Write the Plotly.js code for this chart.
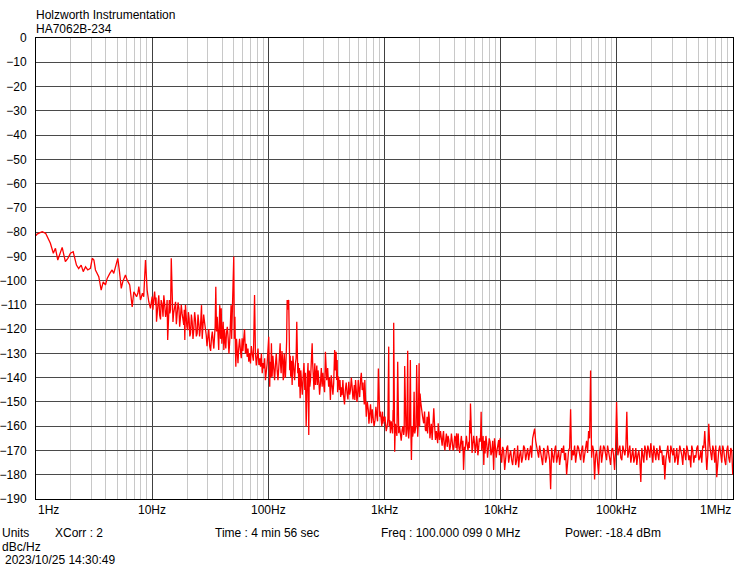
<!DOCTYPE html>
<html>
<head>
<meta charset="utf-8">
<script src="https://cdn.plot.ly/plotly-3.0.1.min.js"></script>
<style>html,body{margin:0;padding:0;background:#fff;}#chart{width:738px;height:566px;}</style>
</head>
<body>
<div id="chart"></div>
<script>
// ---- Data (offset frequency in Hz, phase noise in dBc/Hz) ----
const freqDec1 = [1.00,1.02,1.13,1.21,1.33,1.41,1.47,1.54,1.68,1.79,1.88,1.98,2.09,2.23,2.33,2.45,2.55,2.67,2.79,2.94,3.05,3.15,3.25,3.47,3.64,3.79,3.96,4.10,4.32,4.52,4.67,4.83,5.06,5.23,5.42,5.58,5.89,6.09,6.41,6.73,6.95,7.34,7.53,7.68,7.93,8.25,8.46,8.76,9.05,9.35,9.67];
const noiseDec1 = [-81.5,-80.8,-79.8,-80.5,-84.6,-88.7,-86.7,-91.5,-86.3,-92.2,-90.8,-88.7,-88.1,-93.6,-95.0,-93.6,-96.3,-94.3,-95.6,-94.9,-90.8,-91.5,-95.6,-98.4,-103.9,-100.5,-101.8,-99.1,-97.0,-95.6,-97.0,-94.3,-90.8,-96.3,-103.2,-100.5,-97.7,-99.8,-101.8,-110.8,-104.6,-106.6,-105.2,-102.5,-108.0,-105.2,-106.6,-91.5,-103.9,-108.7,-111.4];

const freqDec2 = [10.0,10.3,10.7,10.9,11.2,11.6,11.95,12.4,12.8,13.3,13.6,13.9,14.2,14.6,14.95,15.3,15.9,16.4,17.0,17.5,18.1,18.7,19.1,19.6,20.2,20.8,21.4,22.1,22.8,23.6,24.4,25.2,26.0,26.6,27.3,28.2,29.2,30.1,31.3,32.4,33.5,34.4,35.3,36.3,37.4,38.2,39.3,40.3,41.4,42.5,43.6,45.1,46.5,47.8,48.8,49.8,50.4,51.6,52.5,54.0,55.6,57.5,59.5,61.3,63.5,65.7,67.9,70.2,72.6,76.1,77.5,80.1,82.9,85.7,88.6,91.5,94.4,97.7];
const noiseDec2 = [-106.6,-108.0,-110.1,-116.9,-109.4,-114.2,-108.0,-114.9,-109.4,-112.1,-124.5,-111.4,-113.5,-90.8,-108.0,-113.5,-108.7,-114.9,-111.4,-115.5,-113.5,-118.3,-124.5,-114.9,-120.4,-115.5,-121.7,-116.9,-120.4,-116.2,-121.7,-117.6,-119.7,-110.1,-120.4,-116.9,-122.4,-123.8,-127.2,-123.8,-125.2,-123.1,-102.5,-114.9,-128.6,-110.1,-111.4,-121.7,-128.6,-124.5,-121.7,-123.8,-125.2,-110.1,-116.9,-94.3,-90.1,-114.9,-135.5,-130.0,-127.9,-128.6,-123.8,-124.5,-130.0,-131.4,-133.4,-134.1,-130.0,-105.9,-130.0,-131.4,-134.8,-135.5,-138.2,-136.2,-141.0,-134.1];
const freqDec2b = [10.15,10.5,10.8,11.05,11.4,11.8,12.2,12.6,13.05,13.45,13.75,14.05,14.4,14.8,15.1,15.6,16.15,16.7,17.25,17.8,18.4,18.9,19.35,19.9,20.5,21.1,21.75,22.45,23.2,24.0,24.8,25.6,26.3,26.95,27.75,28.7,29.65,30.7,31.85,32.95,33.95,34.85,35.8,36.85,37.8,38.75,39.8,40.85,41.95,43.05,44.35,45.8,47.15,48.3,49.3,50.1,51.0,52.05,53.25,54.8,56.55,58.5,60.4,62.4,64.6,66.8,69.05,71.4,74.35,76.8,78.8,81.5,84.3,87.15,90.05,92.95,96.05];
const noiseDec2b = [-112,-104.5,-107,-113,-106,-116,-110,-106,-115,-108,-117,-108,-112,-104,-117,-111,-118,-109,-119,-110,-116,-112,-110,-119,-113,-123,-114,-124,-113,-123,-114,-123,-116,-124,-114,-119,-127,-120,-129,-121,-128,-119,-121,-125,-118,-124,-126,-117,-120,-128,-119,-130,-120,-124,-104,-92,-124,-128,-124,-134,-124,-132,-129,-120,-126,-128,-130,-127,-133,-122,-135,-128,-132,-130,-134,-132,-137];

const freqDec3 = [100.8,102.8,104,106.3,107.8,111.3,115.1,119.1,122.9,126.4,128.9,133.0,135.7,138.4,142.3,145.2,148.1,149.8,152.8,155.8,160.3,165.4,171.2,175.7,179.2,182.7,187.9,192.8,199.4,206.0,211.6,216.6,222.9,227.6,233.7,238.4,243.3,251.2,258.4,264.4,271.7,281.0,290.6,299.9,310.1,318.1,330.5,342.1,353.9,365.3,372.3,383.3,391.3,398.2,408.4,419.5,431.2,445.4,460.2,476.4,492.5,509.5,526.7,544.3,555.3,571.2,586.6,601.4,621.3,642.3,663.6,676.6,697.2,725.4,743.0,773.3,797.0,828.8,857.0,885.7,909.6,935.1,961.1,978];
const noiseDec3 = [-123.1,-143.7,-133.4,-125.8,-139.6,-136.9,-134.8,-136.9,-136.2,-125.8,-138.2,-132.7,-139.6,-133.4,-131.4,-108.0,-108.7,-108.0,-136.9,-139.6,-143.0,-136.9,-134.1,-116.9,-138.2,-143.7,-148.5,-141.0,-139.6,-145.1,-160.2,-139.6,-163.6,-143.7,-135.5,-125.8,-139.6,-134.1,-138.2,-143.0,-141.0,-142.3,-143.7,-143.0,-129.3,-141.0,-143.7,-149.2,-145.1,-142.3,-128.6,-129.3,-132.7,-139.6,-145.1,-147.9,-147.2,-147.9,-145.1,-146.5,-141.7,-145.1,-143.7,-145.8,-149.2,-145.1,-147.9,-144.4,-141.0,-145.1,-148.5,-141.0,-156.1,-153.3,-156.1,-158.8,-156.1,-157.5,-155.4,-136.2,-156.1,-158.2,-154.0,-156.1];
const freqDec3b = [101.8,103.4,105.1,107,109.5,113.2,117.1,121,124.6,127.6,131,134.3,137,140.3,143.7,146.6,149,151.3,154.3,158,162.8,168.3,173.4,177.4,181,185.3,190.3,196.1,202.7,208.8,214.1,219.7,225.2,230.6,236,240.8,247.2,254.8,261.4,268,276.3,285.8,295.2,305,314,324.2,336.3,348,359.6,368.8,377.8,387.3,394.7,403.3,414,425.3,438.3,452.8,468.3,484.4,501,518.1,535.5,549.8,563.2,578.9,594,611.3,631.8,653,670.1,686.9,711.3,734.2,758.1,785.1,812.9,842.9,871.3,897.6,922.3,948.1,969.5];
const noiseDec3b = [-135,-136,-140,-132,-131,-141,-130,-141,-131,-135,-129,-141,-130,-140,-125,-112,-115,-127,-131,-133,-131,-141,-132,-130,-134,-136,-137,-147,-134,-138,-141,-134,-137,-141,-133,-134,-145,-143,-135,-137,-147,-136,-138,-146,-137,-136,-140,-139,-147,-138,-137,-141,-146,-140,-141,-144,-141,-151,-142,-149,-147,-140,-149,-143,-141,-150,-141,-148,-138,-142,-151,-149,-150,-159,-151,-153,-160,-152,-158,-150,-154,-160,-159];

const freqDec4 = [1004,1018,1053,1087,1108,1124,1163,1186,1200,1224,1259,1299,1325,1370,1417,1463,1492,1534,1584,1615,1670,1705,1748,1798,1844,1892,1931,1985,2024,2077,2175,2249,2326,2372,2435,2485,2572,2656,2748,2842,2899,2975,3095,3177,3267,3353,3468,3580,3704,3832,3955,4091,4171,4254,4365,4515,4670,4792,4887,4985,5155,5317,5421,5495,5603,5743,5964,6128,6282,6444,6660,6790,6961,7158,7340,7591,7832,8108,8386,8703,9001,9312,9611,9881];
const noiseDec4 = [-158.2,-158.8,-160.2,-127.2,-157.5,-162.9,-160.9,-153.3,-117.4,-170.5,-161.6,-133.4,-162.9,-165.0,-161.6,-163.6,-135.2,-164.3,-128.9,-165.0,-132.7,-173.9,-164.3,-145.8,-161.6,-134.8,-164.3,-134.1,-146.5,-153.3,-158.8,-161.6,-156.1,-159.5,-157.5,-162.9,-165.7,-152.6,-165.7,-164.3,-158.8,-165.7,-167.1,-164.3,-167.8,-166.4,-168.5,-165.7,-167.8,-166.4,-168.5,-165.0,-162.9,-166.4,-168.5,-167.1,-169.8,-178.0,-168.5,-166.4,-167.8,-166.4,-157.5,-150.6,-165.7,-168.5,-167.1,-168.5,-166.4,-169.8,-166.4,-154.0,-167.1,-176.0,-171.2,-167.1,-169.1,-166.4,-170.5,-178.0,-168.5,-169.8,-165.7,-165.0];
const freqDec4b = [1011,1035,1070,1097,1116,1143,1174,1193,1212,1241,1279,1312,1347,1393,1440,1477,1513,1559,1600,1642,1687,1726,1773,1821,1868,1911,1958,2004,2050,2126,2212,2287,2349,2403,2460,2528,2614,2702,2795,2870,2937,3035,3136,3222,3310,3410,3524,3642,3768,3893,4023,4131,4212,4309,4440,4592,4731,4839,4936,5070,5236,5369,5458,5549,5673,5853,6046,6205,6363,6552,6725,6875,7059,7249,7465,7711,7970,8247,8544,8852,9156,9461,9746];
const noiseDec4b = [-156,-162,-157,-160,-159,-158,-163,-158,-160,-159,-164,-158,-160,-166,-160,-162,-160,-161,-163,-160,-162,-160,-162,-163,-160,-162,-158,-160,-150,-156,-154,-162,-163,-154,-165,-159,-161,-160,-162,-167,-161,-162,-168,-162,-170,-163,-164,-170,-163,-170,-164,-169,-170,-163,-171,-164,-166,-171,-170,-164,-170,-169,-163,-160,-171,-164,-171,-164,-172,-165,-163,-170,-164,-166,-164,-173,-165,-172,-166,-165,-173,-167,-172];

const freqDec5 = [10000,10404,10824,11262,11717,12190,12683,13195,13729,14283,14860,15461,16086,16735,17412,18115,18847,19609,20401,21225,22083,22975,23903,24869,25874,26920,28007,29139,30316,31541,32816,34142,35521,36956,38450,40003,41620,43301,45051,46871,48765,50736,52786,54919,57138,59447,61849,64348,66948,69653,72468,75396,78443,81613,84910,88341,91911,95625,99489];
const noiseDec5 = [-171,-168.5,-178,-169,-175,-170,-176,-169,-174,-177,-170,-173,-169,-172,-174,-168,-165,-161,-169,-173,-171,-176,-170,-173,-171,-186,-172,-170,-175,-170,-173,-171,-174,-180,-170,-153,-170,-168,-172,-169,-174,-168,-171,-166,-162,-137,-168,-182,-170,-180,-168,-172,-169,-174,-170,-176,-169,-178,-150];
const freqDec5b = [10200,10612,11041,11487,11951,12434,12936,13459,14003,14568,15157,15769,16407,17070,17759,18476,19228,20004,20812,21653,22528,23438,24385,25370,26395,27461,28570,29725,30926,32175,33475,34827,36233,37697,39220,40805,42453,44168,45953,47808,49740,51750,53840,56015,58278,60633,63083,65631,68283,71041,73912,76898,80005,83238,86600,90100,93740,97527];
const noiseDec5b = [-175,-170,-173,-168,-172,-174,-171,-176,-168,-172,-175,-168,-174,-169,-171,-173,-163,-166,-172,-168,-174,-169,-175,-168,-174,-169,-175,-168,-172,-176,-169,-168,-171,-173,-169,-174,-172,-175,-168,-171,-170,-175,-168,-171,-165,-173,-170,-172,-175,-171,-175,-168,-171,-168,-173,-170,-172,-170];

const freqDec6 = [104040,108240,112620,117170,121900,126830,131950,137290,142830,148600,154610,160860,167350,174120,181150,188470,196090,204010,212250,220830,229750,239030,248690,258740,269200,280070,291390,303160,315410,328160,341420,355210,369560,384500,400030,416200,433010,450510,468710,487650,507360,527860,549190,571380,594470,618490,643480,669480,696530,724680,753960,784430,816130,849100,883410,919110,956250,994890,1000000];
const noiseDec6 = [-170,-173,-168,-172,-154,-171,-175,-169,-173,-176,-170,-183,-172,-168,-174,-170,-167,-175,-171,-169,-174,-171,-176,-182,-170,-173,-168,-172,-175,-169,-173,-170,-176,-171,-168,-174,-177,-170,-172,-169,-174,-170,-168,-162,-178,-159,-171,-168,-175,-181,-170,-172,-168,-174,-170,-173,-169,-180,-176];
const freqDec6b = [102000,106120,110410,114870,119510,124340,129360,134590,140030,145680,151570,157690,164070,170700,177590,184760,192280,200040,208120,216530,225280,234380,243850,253700,263950,274610,285700,297250,309260,321750,334750,348270,362330,376970,392200,408050,424530,441680,459530,478080,497400,517500,538400,560150,582780,606330,630830,656310,682830,710410,739120,768980,800050,832380,866000,901000,937400,975270];
const noiseDec6b = [-172,-168,-174,-170,-169,-173,-168,-172,-175,-169,-172,-174,-169,-175,-170,-168,-173,-170,-168,-174,-172,-168,-170,-172,-174,-168,-175,-170,-169,-173,-176,-168,-172,-169,-174,-170,-172,-168,-175,-173,-168,-173,-175,-169,-171,-172,-168,-174,-170,-168,-173,-168,-175,-170,-176,-168,-175,-170];

// Axis labels
const decadeTicks = [1,10,100,1000,10000,100000,1000000];
const decadeLabels = ['1Hz','10Hz','100Hz','1kHz','10kHz','100kHz','1MHz'];
const yTicks = [0,-10,-20,-30,-40,-50,-60,-70,-80,-90,-100,-110,-120,-130,-140,-150,-160,-170,-180,-190];

// Header / footer texts
const headerLines = ['Holzworth Instrumentation','HA7062B-234'];
const footerTexts = ['Units','XCorr : 2','Time : 4 min 56 sec','Freq : 100.000 099 0 MHz','Power: -18.4 dBm','dBc/Hz','2023/10/25 14:30:49'];

const groups = [[freqDec1,noiseDec1],[freqDec2,noiseDec2],[freqDec2b,noiseDec2b],[freqDec3,noiseDec3],[freqDec3b,noiseDec3b],
  [freqDec4,noiseDec4],[freqDec4b,noiseDec4b],[freqDec5,noiseDec5],[freqDec5b,noiseDec5b],[freqDec6,noiseDec6],[freqDec6b,noiseDec6b]];
const pts = [];
groups.forEach(([f,n],gi) => {
  if (f.length !== n.length) throw new Error('length mismatch in group '+gi+': '+f.length+' vs '+n.length);
  f.forEach((v,i)=>pts.push([v,n[i]]));
});
pts.sort((a,b)=>a[0]-b[0]);
const freqs = pts.map(p=>p[0]);
const noise = pts.map(p=>p[1]);

const minorVals = [];
for (let d = 1; d < 1e6; d *= 10) for (let m = 2; m <= 9; m++) minorVals.push(m*d);

const W = 738, H = 566, ML = 36, MR = 5, MT = 38, MB = 67;
const PW = W-ML-MR, PH = H-MT-MB;
const px = x => (x-ML)/PW;
const py = y => (H-MB-y)/PH;
const FONT = 'Liberation Sans, Arial, sans-serif';

const annotations = [];
decadeTicks.forEach((v,i) => {
  annotations.push({
    x: Math.log10(v), xref:'x', y:0, yref:'paper', yanchor:'middle', yshift:-10.5,
    xanchor: i===0 ? 'left' : (i===decadeTicks.length-1 ? 'right' : 'center'),
    text: decadeLabels[i], showarrow:false, font:{family:FONT,size:12,color:'#000'}
  });
});
const headerPos = [[34,15],[34,29]];
headerLines.forEach((t,i)=>annotations.push({x:px(headerPos[i][0]),y:py(headerPos[i][1]),xref:'paper',yref:'paper',xanchor:'left',yanchor:'middle',text:t,showarrow:false,font:{family:FONT,size:12,color:'#000'}}));
const footPos = [[0,533],[53,533],[213,533],[379,533],[563,533],[0,547],[3,560]];
footerTexts.forEach((t,i)=>annotations.push({x:px(footPos[i][0]),y:py(footPos[i][1]),xref:'paper',yref:'paper',xanchor:'left',yanchor:'middle',text:t,showarrow:false,font:{family:FONT,size:12,color:'#000'}}));

const trace = {
  x: freqs, y: noise, type:'scatter', mode:'lines',
  line:{color:'#ff0000', width:1.3}, hoverinfo:'x+y', showlegend:false
};

const layout = {
  width: W, height: H,
  margin:{l:ML, r:MR, t:MT, b:MB, pad:0},
  paper_bgcolor:'#ffffff', plot_bgcolor:'#ffffff',
  font:{family:FONT, size:12, color:'#000'},
  xaxis:{
    type:'log', range:[0,6], tickmode:'array', tickvals:decadeTicks, showticklabels:false,
    ticks:'', showgrid:true, gridcolor:'#404040', gridwidth:1,
    minor:{tickmode:'array', tickvals:minorVals, showgrid:true, gridcolor:'#c8c8c8', gridwidth:1, ticks:''},
    showline:true, linecolor:'#000', linewidth:1, mirror:true, zeroline:false, fixedrange:true
  },
  yaxis:{
    range:[-190,0], tickmode:'array', tickvals:yTicks, ticks:'', showgrid:true, gridcolor:'#4a4a4a', gridwidth:1,
    showline:true, linecolor:'#000', linewidth:1, mirror:true, zeroline:false,
    tickfont:{family:FONT,size:12,color:'#000'}, ticklabelstandoff:6, fixedrange:true
  },
  annotations: annotations
};

Plotly.newPlot('chart',[trace],layout,{displayModeBar:false, staticPlot:true});
</script>
</body>
</html>
